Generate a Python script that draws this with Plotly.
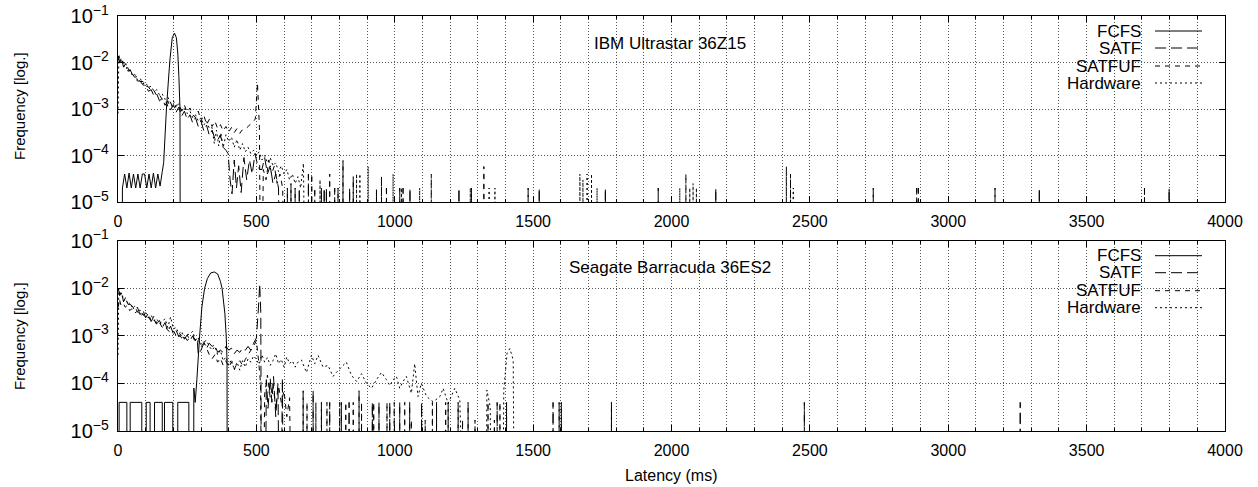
import plotly.graph_objects as go

# ---------------- data : IBM Ultrastar 36Z15 (top) ----------------
fcfs_top_x = [14, 16, 24, 32, 40, 48, 56, 64, 72, 80, 88, 96, 104, 112, 120, 128, 136, 144, 152, 160,
              165, 175, 182, 188, 196, 204, 211, 216, 220, 224, 225.5]
fcfs_top_y = [0, 2e-5, 4e-5, 2e-5, 4.2e-5, 2e-5, 4e-5, 2e-5, 4e-5, 2e-5, 4e-5, 4e-5, 2e-5, 4e-5, 2e-5,
              4.2e-5, 2e-5, 4e-5, 2.2e-5, 4.5e-5, 7e-5, 1e-3, 4e-3, 1.2e-2, 3.4e-2, 4.3e-2, 3.4e-2,
              1.6e-2, 5e-3, 1e-3, 0]

satf_top_x = [1, 6, 12, 20, 28, 36, 44, 52, 60, 70, 80, 90, 100, 110, 120, 130, 140, 150, 160, 170,
              180, 190, 200, 210, 220, 230, 240, 250, 260, 270, 280, 290, 300, 310, 320, 330, 340, 350,
              360, 370, 380, 390, 398, 405, 412, 420, 428, 436, 445, 455, 465, 475, 485, 495, 505, 512,
              520, 530, 540, 550, 560, 570, 580, 590]
satf_top_y = [1.4e-2, 1.0e-2, 1.25e-2, 8e-3, 9.5e-3, 6.5e-3, 7e-3, 5.5e-3, 5.2e-3, 4e-3, 4e-3, 3.3e-3,
              3.2e-3, 2.4e-3, 2.6e-3, 1.9e-3, 2.1e-3, 1.5e-3, 1.7e-3, 1.2e-3, 1.5e-3, 9.5e-4, 1.25e-3,
              8.5e-4, 1.1e-3, 7e-4, 9e-4, 6e-4, 7.5e-4, 5e-4, 6.5e-4, 4.2e-4, 5.5e-4, 3.4e-4, 4.5e-4,
              2.7e-4, 3.5e-4, 2.3e-4, 2.1e-4, 2.8e-4, 1.5e-4, 1.3e-4, 1.1e-4, 3e-5, 1.5e-5, 8e-5, 2e-5,
              6e-5, 1.6e-5, 9e-5, 3e-5, 8e-5, 4e-5, 1.1e-4, 6e-5, 5e-5, 5e-5, 9e-5, 4e-5, 6e-5, 2.5e-5,
              4e-5, 2e-5, 0]
satf_top_sx = [612, 625, 640, 655, 688, 711, 735, 745, 753, 783, 795, 813, 837, 850, 934, 970, 1018,
               1030, 1055, 1232, 1277, 1482, 1522, 1761, 1952, 2160, 2729, 2886, 2892, 3169, 3329,
               3709, 3798]
satf_top_sy = [2e-5, 2.5e-5, 2e-5, 2e-5, 4e-5, 1.8e-5, 2e-5, 2e-5, 2e-5, 2e-5, 2e-5, 7.8e-5, 2e-5,
               3.5e-5, 2e-5, 2e-5, 2e-5, 2e-5, 2e-5, 2e-5, 2e-5, 2e-5, 2e-5, 2e-5, 2e-5, 2e-5, 2e-5,
               2e-5, 2e-5, 2e-5, 2e-5, 2e-5, 2e-5]

satfuf_top_x = [1, 5, 10, 18, 26, 34, 42, 50, 60, 70, 80, 90, 100, 110, 120, 130, 140, 150, 160, 170,
                180, 190, 200, 210, 220, 230, 240, 250, 260, 270, 280, 290, 300, 310, 320, 330, 340,
                350, 360, 370, 380, 390, 400, 410, 420, 430, 440, 450, 460, 470, 480, 488, 496, 504,
                511, 517, 525, 535, 545, 555, 565, 575, 585, 595, 605]
satfuf_top_y = [1.1e-2, 1.4e-2, 1.1e-2, 1.05e-2, 8.5e-3, 8e-3, 6.5e-3, 6e-3, 4.8e-3, 5e-3, 3.9e-3,
                3.9e-3, 3.1e-3, 3e-3, 2.4e-3, 2.5e-3, 1.9e-3, 2e-3, 1.6e-3, 1.6e-3, 1.15e-3,
                1.4e-3, 9.5e-4, 1.2e-3, 1.25e-3, 9e-4, 1.2e-3, 8.5e-4, 1.05e-3, 7.5e-4, 6.5e-4, 9e-4,
                5.5e-4, 7.5e-4, 4.6e-4, 6e-4, 4.2e-4, 5.5e-4, 3.8e-4, 4.6e-4, 3.4e-4, 4.2e-4, 3.2e-4,
                4e-4, 3.1e-4, 3.8e-4, 3e-4, 3.6e-4, 3.7e-4, 4.2e-4, 4.8e-4, 5.5e-4, 6e-4, 3.6e-3,
                4e-4, 0, 5e-5, 3e-5, 8e-5, 4e-5, 6e-5, 2.5e-5, 4e-5, 2e-5, 0]
satfuf_top_sx = [700, 765, 952, 1132, 1322, 2052, 2415, 2430]
satfuf_top_sy = [4e-5, 4e-5, 3.5e-5, 4e-5, 5.8e-5, 4e-5, 5.8e-5, 4e-5]

hw_top_x = [0, 3, 8, 14, 20, 28, 36, 44, 52, 60, 70, 80, 90, 100, 110, 120, 130, 140, 150, 160, 170,
            180, 190, 200, 210, 220, 230, 240, 250, 260, 270, 280, 290, 300, 310, 320, 330, 340, 348,
            356, 364, 372, 380, 390, 400, 410, 420, 430, 440, 450, 460, 470, 480, 490, 500, 510, 520,
            530, 540, 550, 560, 570, 580, 590, 600, 610, 620, 630, 640, 650, 660, 670, 680]
hw_top_y = [8e-4, 1.3e-2, 1e-2, 1.1e-2, 8e-3, 8.5e-3, 6.5e-3, 6.8e-3, 5.2e-3, 5.6e-3, 4.3e-3, 4.6e-3,
            3.5e-3, 3.7e-3, 2.9e-3, 3.1e-3, 2.4e-3, 2.6e-3, 2e-3, 2.1e-3, 1.6e-3, 1.8e-3, 1.35e-3,
            1.5e-3, 1.1e-3, 1.3e-3, 9e-4, 1.1e-3, 8e-4, 9e-4, 6.5e-4, 7.5e-4, 5.5e-4, 6.5e-4, 4.5e-4,
            5.5e-4, 3.8e-4, 4e-4, 1.8e-4, 3.5e-4, 1.6e-4, 3e-4, 1.5e-4, 2.8e-4, 2e-4, 2.5e-4, 1.5e-4,
            2.2e-4, 1.3e-4, 1.8e-4, 1.2e-4, 1.5e-4, 1.1e-4, 1.3e-4, 1.0e-4, 1.2e-4, 8e-5, 1.0e-4,
            7e-5, 9e-5, 6e-5, 7e-5, 4.5e-5, 6e-5, 4e-5, 5e-5, 3e-5, 4e-5, 2.5e-5, 3.5e-5, 2e-5,
            6.8e-5, 0]
hw_top_sx = [730, 862, 874, 904, 994, 1024, 1090, 1273, 1341, 1362, 1669, 1680, 1695, 1711, 1731,
             2030, 2066, 2078, 2090, 2440]
hw_top_sy = [3e-5, 4e-5, 4e-5, 5.8e-5, 4e-5, 2e-5, 2e-5, 2e-5, 2e-5, 2e-5, 4e-5, 3e-5, 4e-5, 4e-5,
             2e-5, 2e-5, 2e-5, 2.5e-5, 2e-5, 2e-5]

# ---------------- data : Seagate Barracuda 36ES2 (bottom) ----------------
fcfs_bot_x = [4, 4, 32, 32, 44, 44, 86, 86, 102, 102, 116, 116, 132, 132, 160, 160, 168, 168, 198,
              198, 216, 216, 256, 256, 273, 274, 279, 285, 295, 303, 313, 323, 335, 348, 360, 370,
              376, 386, 391, 394, 395]
fcfs_bot_y = [0, 4e-5, 4e-5, 0, 0, 4e-5, 4e-5, 0, 0, 4e-5, 4e-5, 0, 0, 4e-5, 4e-5, 0, 0, 4e-5, 4e-5,
              0, 0, 4e-5, 4e-5, 0, 0, 8e-5, 4e-5, 1.2e-4, 1e-3, 4e-3, 1e-2, 1.6e-2, 2.1e-2, 2.2e-2,
              2e-2, 1.4e-2, 1e-2, 3e-3, 1e-3, 3e-4, 0]

satf_bot_x = [1, 6, 12, 20, 28, 36, 44, 52, 60, 70, 80, 90, 100, 110, 120, 130, 140, 150, 160, 170,
              180, 190, 200, 210, 220, 230, 240, 250, 260, 270, 280, 286, 290, 300, 310, 320, 330,
              340, 350, 360, 370, 380, 390, 400, 410, 420, 430, 440, 450, 460, 470, 480, 490, 500,
              507, 512, 516, 519, 530, 536, 542, 550, 556, 562, 570, 578, 586, 594, 600]
satf_bot_y = [1.0e-2, 7e-3, 8.5e-3, 5.2e-3, 6.5e-3, 4.6e-3, 4.6e-3, 4.2e-3, 3.4e-3, 4e-3, 2.8e-3,
              3.5e-3, 2.4e-3, 3e-3, 2e-3, 2.6e-3, 1.8e-3, 2.1e-3, 1.5e-3, 1.9e-3, 1.25e-3, 1.6e-3,
              1.1e-3, 1.3e-3, 9.5e-4, 1.15e-3, 8.5e-4, 1.05e-3, 8e-4, 1e-3, 8e-4, 9e-4, 4e-4, 5e-4,
              7e-4, 5.5e-4, 7e-4, 6e-4, 6.5e-4, 4.5e-4, 5e-4, 4.5e-4, 6e-4, 5e-4, 5.5e-4, 4.2e-4,
              5e-4, 4.5e-4, 5.5e-4, 5e-4, 6e-4, 5e-4, 7e-4, 9e-4, 3.5e-3, 1.25e-2, 3e-3, 0, 0,
              1.2e-4, 3e-5, 1.3e-4, 4e-5, 1.4e-4, 2e-5, 1e-4, 0, 1.3e-4, 0]
satf_bot_sx = [669, 705, 735, 765, 807, 835, 871, 919, 943, 982, 1018, 1054, 1097, 1151, 1193, 1229,
               1265, 1370, 1404, 1572, 1594, 1602, 1783, 2480, 3260]
satf_bot_sy = [7e-5, 7e-5, 4e-5, 4e-5, 4e-5, 4e-5, 7e-5, 4e-5, 4e-5, 4e-5, 4e-5, 4e-5, 4e-5, 4e-5,
               4e-5, 4e-5, 4e-5, 4e-5, 4e-5, 4e-5, 4e-5, 4e-5, 4e-5, 4e-5, 4e-5]

satfuf_bot_x = [1, 5, 10, 18, 26, 34, 42, 50, 60, 70, 80, 90, 100, 110, 120, 130, 140, 150, 160, 170,
                180, 190, 200, 210, 220, 230, 240, 250, 260, 270, 280, 290, 300, 310, 320, 330, 340,
                350, 360, 370, 380, 390, 400, 410, 420, 430, 440, 450, 460, 470, 480, 490, 500, 508,
                515, 522, 530, 540, 550, 560, 570, 580, 590, 600, 610, 620, 630]
satfuf_bot_y = [4e-3, 6e-3, 4.5e-3, 5e-3, 4e-3, 4.4e-3, 3.4e-3, 3.7e-3, 3e-3, 3.3e-3, 2.6e-3, 2.9e-3,
                2.3e-3, 2.5e-3, 2e-3, 2.2e-3, 1.7e-3, 1.9e-3, 1.5e-3, 1.6e-3, 1.3e-3, 1.2e-3, 1.3e-3,
                1.0e-3, 1.1e-3, 9e-4, 1.0e-3, 8e-4, 9e-4, 1.0e-3, 7e-4, 8e-4, 6.5e-4, 7.5e-4, 5.5e-4,
                4e-4, 3.3e-4, 4e-4, 2.8e-4, 3.4e-4, 2.4e-4, 3e-4, 2.2e-4, 2.8e-4, 2e-4, 2.6e-4, 3e-4,
                2.4e-4, 3.2e-4, 4e-4, 5e-4, 6e-4, 8e-4, 3e-4, 1e-4, 0, 6e-5, 1.5e-4, 5e-5, 1e-4, 3e-5,
                9e-5, 4e-5, 7e-5, 2e-5, 5e-5, 0]
satfuf_bot_sx = [683, 715, 755, 801, 823, 850, 880, 924, 972, 998, 1036, 1060, 1110, 1136, 1184,
                 1245, 1290, 1337, 1360, 1380]
satfuf_bot_sy = [4e-5, 4e-5, 4e-5, 4e-5, 4e-5, 4e-5, 4e-5, 4e-5, 4e-5, 4e-5, 4e-5, 1.7e-5, 1.7e-5,
                 4e-5, 4e-5, 1.7e-5, 1.7e-5, 4e-5, 1.7e-5, 4e-5]

hw_bot_x = [0, 3, 8, 14, 20, 28, 36, 44, 52, 60, 70, 80, 90, 100, 110, 120, 130, 140, 150, 160, 170,
            180, 190, 200, 210, 220, 230, 240, 250, 260, 270, 280, 290, 300, 310, 320, 330, 340, 350,
            360, 370, 380, 390, 400, 410, 420, 430, 440, 450, 460, 470, 480, 490, 500, 510, 520, 530,
            540, 550, 560, 570, 580, 590, 600, 610, 620, 630, 640, 650, 663, 681, 699, 711, 723, 741,
            759, 777, 789, 807, 825, 843, 862, 880, 898, 916, 934, 952, 970, 982, 994, 1006, 1018,
            1030, 1042, 1060, 1072, 1084, 1096, 1115, 1139, 1163, 1175, 1193, 1217, 1235, 1259,
            1328, 1333, 1345, 1352, 1388, 1394, 1406, 1416, 1428, 1434]
hw_bot_y = [4e-4, 1.0e-2, 7e-3, 8e-3, 5.5e-3, 6e-3, 4.5e-3, 5e-3, 3.8e-3, 4.2e-3, 3.2e-3, 3.5e-3,
            2.8e-3, 3.1e-3, 2.4e-3, 2.7e-3, 2.1e-3, 2.3e-3, 1.8e-3, 2e-3, 2.3e-3, 1.5e-3, 2.5e-3,
            1.4e-3, 1.5e-3, 1.1e-3, 1.25e-3, 9e-4, 1.05e-3, 1.1e-3, 1.25e-3, 8e-4, 9e-4, 6e-4,
            7.5e-4, 8e-4, 6e-4, 5e-4, 6e-4, 4e-4, 5e-4, 3e-4, 3.6e-4, 2.4e-4, 3.2e-4, 1.9e-4,
            2.8e-4, 1.9e-4, 3e-4, 2.2e-4, 3.3e-4, 2.8e-4, 3.8e-4, 3.2e-4, 2.5e-4, 4e-4, 2.8e-4,
            3.5e-4, 2.4e-4, 3e-4, 4.2e-4, 2.6e-4, 3.2e-4, 2.2e-4, 3.6e-4, 2.6e-4, 3e-4, 2.2e-4,
            2.8e-4, 3.1e-4, 1.7e-4, 3.9e-4, 2.6e-4, 3.9e-4, 2.2e-4, 2.4e-4, 1.4e-4, 1.7e-4, 2.2e-4,
            2.8e-4, 1.5e-4, 1.1e-4, 1.6e-4, 1e-4, 7.9e-5, 1.2e-4, 1.7e-4, 1.2e-4, 9e-5, 1.2e-4,
            1.4e-4, 7.9e-5, 1.1e-4, 1.4e-4, 6.2e-5, 2.6e-4, 5.3e-5, 1e-4, 5.3e-5, 4.1e-5, 5.3e-5,
            7.9e-5, 3.8e-5, 7.9e-5, 4.5e-5, 0, 0, 7.3e-5, 3.2e-5, 0, 0, 7.3e-5, 4.3e-4, 5.4e-4,
            3.1e-4, 0]

series_names = ["FCFS", "SATF", "SATFUF", "Hardware"]
dashes = ["solid", "11px,5px", "5px,5px", "2px,3px"]
panel_titles = ["IBM Ultrastar 36Z15", "Seagate Barracuda 36ES2"]
x_ticks = [0, 500, 1000, 1500, 2000, 2500, 3000, 3500, 4000]

FLOOR = 1e-9  # empty bins: drawn below the visible range (log axis)


def build(bx, by, sx=(), sy=()):
    pts = list(zip(bx, by))
    for x, h in zip(sx, sy):
        pts += [(x - 0.6, 0), (x, h), (x + 0.6, 0)]
    pts.sort(key=lambda p: p[0])
    return [p[0] for p in pts], [p[1] if p[1] > 0 else FLOOR for p in pts]


panels = [
    [build(fcfs_top_x, fcfs_top_y),
     build(satf_top_x, satf_top_y, satf_top_sx, satf_top_sy),
     build(satfuf_top_x, satfuf_top_y, satfuf_top_sx, satfuf_top_sy),
     build(hw_top_x, hw_top_y, hw_top_sx, hw_top_sy)],
    [build(fcfs_bot_x, fcfs_bot_y),
     build(satf_bot_x, satf_bot_y, satf_bot_sx, satf_bot_sy),
     build(satfuf_bot_x, satfuf_bot_y, satfuf_bot_sx, satfuf_bot_sy),
     build(hw_bot_x, hw_bot_y)],
]

W, H = 1258, 487
ML, MR, MT, MB = 118, 33, 16, 56
PW, PH = W - ML - MR, H - MT - MB


def xp(px):
    return (px - ML) / PW


def yp(py):
    return (H - MB - py) / PH


FONT = "Liberation Sans, Arial, Helvetica, sans-serif"
fig = go.Figure()

axis_ids = [("x", "y"), ("x2", "y2")]
for pi, traces in enumerate(panels):
    xa, ya = axis_ids[pi]
    for si, (xs, ys) in enumerate(traces):
        fig.add_trace(go.Scatter(
            x=xs, y=ys, mode="lines", xaxis=xa, yaxis=ya, showlegend=False,
            hoverinfo="skip",
            line=dict(color="black", width=1, dash=dashes[si], simplify=False)))

common_x = dict(range=[0, 4000], tickvals=x_ticks, ticks="inside", ticklen=6, tickcolor="black",
                showline=True, linecolor="black", linewidth=1, mirror="ticks", zeroline=False,
                showgrid=True, gridcolor="#555", griddash="1px,2px", gridwidth=1,
                tickfont=dict(family=FONT, size=16, color="black"), ticklabelstandoff=5,
                minor=dict(dtick=100, tick0=0, ticks="inside", ticklen=3, tickcolor="black",
                           showgrid=True, gridcolor="#555", griddash="1px,2px", gridwidth=1))
common_y = dict(type="log", range=[-5, -1], dtick=1, exponentformat="power", showexponent="all",
                ticks="inside", ticklen=6, tickcolor="black", showline=True, linecolor="black",
                linewidth=1, mirror="ticks", zeroline=False, showgrid=True, gridcolor="#555",
                griddash="1px,2px", gridwidth=1, ticklabelstandoff=5,
                tickfont=dict(family=FONT, size=16, color="black"))

top_dom = [1 - (202 - MT) / PH, 1.0]
bot_dom = [0.0, 1 - (240.7 - MT) / PH]

fig.update_layout(
    width=W, height=H, margin=dict(l=ML, r=MR, t=MT, b=MB, autoexpand=False),
    paper_bgcolor="white", plot_bgcolor="white", showlegend=False,
    xaxis=dict(common_x, anchor="y"),
    yaxis=dict(common_y, domain=top_dom, anchor="x"),
    xaxis2=dict(common_x, anchor="y2"),
    yaxis2=dict(common_y, domain=bot_dom, anchor="x2"),
)

annotations = []
shapes = []
panel_top = [16, 240.7]
title_y = [43, 267]
ylab_y = [106, 336]
legend_rows = [15, 32, 50, 67]
for pi in range(2):
    annotations.append(dict(text=panel_titles[pi], x=xp(670), y=yp(title_y[pi]), xref="paper",
                            yref="paper", showarrow=False, xanchor="center", yanchor="middle",
                            font=dict(family=FONT, size=17, color="black")))
    annotations.append(dict(text="Frequency [log.]", x=xp(19), y=yp(ylab_y[pi]), xref="paper",
                            yref="paper", showarrow=False, textangle=-90, xanchor="center",
                            yanchor="middle", font=dict(family=FONT, size=15, color="black")))
    for si, name in enumerate(series_names):
        yy = yp(panel_top[pi] + legend_rows[si])
        annotations.append(dict(text=name, x=xp(1143), y=yy, xref="paper", yref="paper",
                                showarrow=False, xanchor="right", yanchor="middle",
                                font=dict(family=FONT, size=17, color="black")))
        shapes.append(dict(type="line", xref="paper", yref="paper", x0=xp(1155), x1=xp(1202),
                           y0=yy, y1=yy, line=dict(color="black", width=1, dash=dashes[si])))

annotations.append(dict(text="Latency (ms)", x=xp(671), y=yp(475), xref="paper", yref="paper",
                        showarrow=False, xanchor="center", yanchor="middle",
                        font=dict(family=FONT, size=16, color="black")))
fig.update_layout(annotations=annotations, shapes=shapes)

fig.write_html("out.html")
